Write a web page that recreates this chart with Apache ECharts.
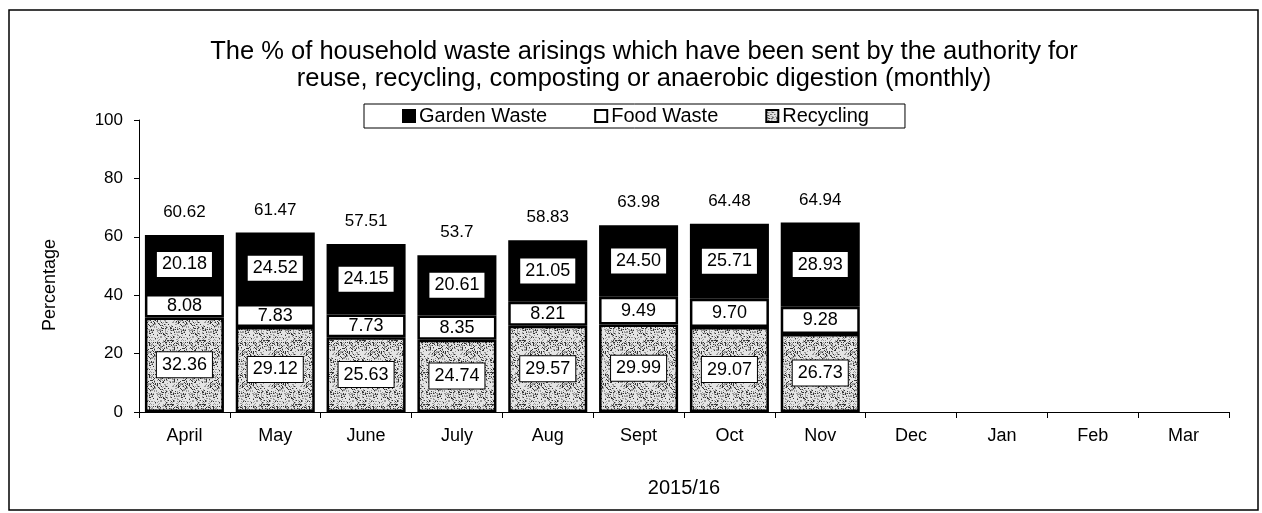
<!DOCTYPE html>
<html>
<head>
<meta charset="utf-8">
<script src="https://cdn.jsdelivr.net/npm/echarts@6/dist/echarts.min.js"></script>
<style>
  html, body { margin: 0; padding: 0; background: #fff; }
  #main { width: 1262px; height: 513px; }
</style>
</head>
<body>
<div id="main"></div>
<script>
  // data
  var months = ['April', 'May', 'June', 'July', 'Aug', 'Sept', 'Oct', 'Nov', 'Dec', 'Jan', 'Feb', 'Mar'];
  var recycling = [32.36, 29.12, 25.63, 24.74, 29.57, 29.99, 29.07, 26.73];
  var foodWaste = [8.08, 7.83, 7.73, 8.35, 8.21, 9.49, 9.70, 9.28];
  var gardenWaste = [20.18, 24.52, 24.15, 20.61, 21.05, 24.50, 25.71, 28.93];
  var totals = [60.62, 61.47, 57.51, 53.7, 58.83, 63.98, 64.48, 64.94];

  var FONT = '"Liberation Sans", Arial, sans-serif';

  // grey speckle fill for recycling (fixed hash, not random)
  function speckle() {
    var n = 32;
    var c = document.createElement('canvas');
    c.width = n; c.height = n;
    var g = c.getContext('2d');
    g.fillStyle = '#e4e4e4';
    g.fillRect(0, 0, n, n);
    for (var i = 0; i < n; i++) {
      for (var j = 0; j < n; j++) {
        var x = Math.imul(i * 7919 + j * 104729 + 1, 2654435761);
        x ^= x >>> 15;
        x = Math.imul(x, 2246822519);
        x ^= x >>> 13;
        var h = (x >>> 0) % 100;
        if (h < 14) { g.fillStyle = '#333'; g.fillRect(i, j, 1, 1); }
        else if (h < 34) { g.fillStyle = '#9a9a9a'; g.fillRect(i, j, 1, 1); }
      }
    }
    return c;
  }

  var boxLabel = {
    show: true,
    position: 'inside',
    color: '#000',
    fontFamily: FONT,
    fontSize: 18,
    backgroundColor: '#fff',
    borderColor: '#000',
    borderWidth: 1,
    padding: [4, 5, 3, 5],
    formatter: function (p) { return p.value.toFixed(2); }
  };

  var chart = echarts.init(document.getElementById('main'));
  chart.setOption({
    animation: false,
    textStyle: { fontFamily: FONT, color: '#000' },
    title: {
      text: 'The % of household waste arisings which have been sent by the authority for\nreuse, recycling, composting or anaerobic digestion (monthly)',
      left: 639,
      textAlign: 'center',
      top: 33,
      textStyle: { fontFamily: FONT, fontSize: 25.5, fontWeight: 'normal', color: '#000', lineHeight: 27 }
    },
    legend: {
      data: ['Garden Waste', 'Food Waste', 'Recycling'],
      icon: 'rect',
      left: 364,
      top: 104,
      padding: [2, 36, 2, 38],
      itemGap: 47,
      itemWidth: 12,
      itemHeight: 12,
      borderColor: '#000',
      borderWidth: 1,
      textStyle: { fontFamily: FONT, fontSize: 20, lineHeight: 20, color: '#000', padding: [0, 0, 0, -1] }
    },
    grid: { left: 139, right: 33, top: 120, bottom: 101 },
    xAxis: {
      type: 'category',
      data: months,
      name: '2015/16',
      nameLocation: 'middle',
      nameGap: 66,
      nameTextStyle: { fontFamily: FONT, fontSize: 20, color: '#000' },
      axisLine: { lineStyle: { color: '#000', width: 1 } },
      axisTick: { show: true, length: 6, lineStyle: { color: '#000' } },
      axisLabel: { fontFamily: FONT, fontSize: 18, color: '#000', margin: 15 }
    },
    yAxis: {
      type: 'value',
      min: 0,
      max: 100,
      interval: 20,
      name: 'Percentage',
      nameLocation: 'middle',
      nameGap: 80,
      nameTextStyle: { fontFamily: FONT, fontSize: 18, color: '#000', padding: [0, 38, 0, 0] },
      axisLine: { show: true, lineStyle: { color: '#000', width: 1 } },
      axisTick: { show: true, length: 5, lineStyle: { color: '#000' } },
      axisLabel: { fontFamily: FONT, fontSize: 17, color: '#000', margin: 16 },
      splitLine: { show: false }
    },
    graphic: [{
      type: 'rect',
      shape: { x: 9, y: 10, width: 1249, height: 500 },
      style: { fill: 'none', stroke: '#000', lineWidth: 1.5 },
      z: 100
    }],
    series: [
      {
        name: 'Recycling',
        type: 'bar',
        stack: 'waste',
        barCategoryGap: '13%',
        data: recycling,
        itemStyle: { color: { image: speckle(), repeat: 'repeat' }, borderColor: '#000', borderWidth: 2.5 },
        label: boxLabel
      },
      {
        name: 'Food Waste',
        type: 'bar',
        stack: 'waste',
        data: foodWaste,
        itemStyle: { color: '#fff', borderColor: '#000', borderWidth: 2.5 },
        label: {
          show: true,
          position: 'inside',
          color: '#000',
          fontFamily: FONT,
          fontSize: 18,
          formatter: function (p) { return p.value.toFixed(2); }
        }
      },
      {
        name: 'Garden Waste',
        type: 'bar',
        stack: 'waste',
        data: gardenWaste,
        itemStyle: { color: '#000', borderColor: '#000', borderWidth: 2.5 },
        label: boxLabel
      },
      {
        name: 'Total',
        type: 'scatter',
        data: totals,
        symbolSize: 0,
        silent: true,
        itemStyle: { opacity: 1 },
        label: {
          show: true,
          position: 'top',
          distance: 14,
          fontFamily: FONT,
          fontSize: 17,
          color: '#000',
          formatter: function (p) { return String(p.value); }
        }
      }
    ]
  });
</script>
</body>
</html>
